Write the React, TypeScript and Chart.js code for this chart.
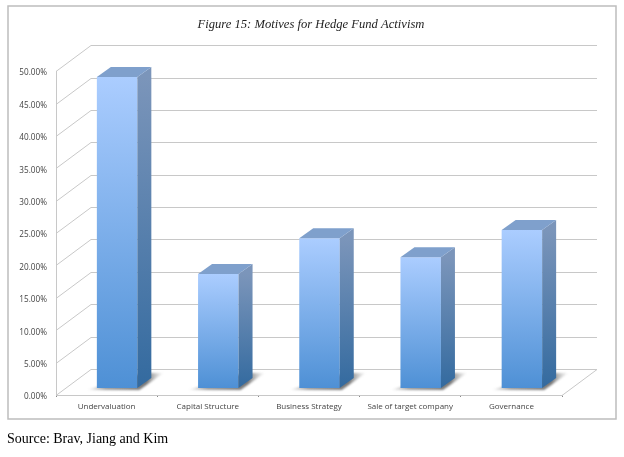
import React, { useEffect, useRef } from "react";
import { Chart, registerables } from "chart.js";

Chart.register(...registerables);

const categories = ["Undervaluation", "Capital Structure", "Business Strategy", "Sale of target company", "Governance"];
const motiveShares = [48.0, 17.6, 23.1, 20.2, 24.4];
const titleText = "Figure 15: Motives for Hedge Fund Activism";
const sourceText = "Source: Brav, Jiang and Kim";

const WALL_DX = 35;
const WALL_DY = 26;
const BAR_SHIFT_X = 10.5;
const BAR_SHIFT_Y = 7;
const DEPTH_X = 14;
const DEPTH_Y = 10;
const GRID = "#c8c8c8";

const poly = (c: CanvasRenderingContext2D, pts: number[][], fill: any) => {
  c.beginPath();
  pts.forEach(([x, y], i) => (i ? c.lineTo(x, y) : c.moveTo(x, y)));
  c.closePath();
  c.fillStyle = fill;
  c.fill();
};

const scene = {
  id: "scene",
  afterLayout(chart: any) {
    if (chart.titleBlock) {
      chart.titleBlock.left = 0;
      chart.titleBlock.right = 622;
    }
  },
  beforeDraw(chart: any) {
    const c = chart.ctx as CanvasRenderingContext2D;
    c.save();
    c.strokeStyle = "#bdbdbd";
    c.lineWidth = 1.5;
    c.strokeRect(8, 6, 608, 413);
    c.restore();
  },
  beforeDatasetsDraw(chart: any) {
    const c = chart.ctx as CanvasRenderingContext2D;
    const { x: xs, y: ys } = chart.scales;
    const L = xs.left, R = xs.right;
    c.save();
    c.strokeStyle = GRID;
    c.lineWidth = 1;
    ys.ticks.forEach((t: any) => {
      const y = Math.round(ys.getPixelForValue(t.value)) + 0.5;
      c.beginPath();
      c.moveTo(L, y);
      c.lineTo(L + WALL_DX, y - WALL_DY);
      c.lineTo(R + WALL_DX, y - WALL_DY);
      c.stroke();
    });
    const y0 = Math.round(ys.getPixelForValue(0)) + 0.5;
    c.beginPath();
    c.moveTo(R, y0);
    c.lineTo(R + WALL_DX, y0 - WALL_DY);
    c.stroke();
    c.restore();

    // floor shadows
    const meta = chart.getDatasetMeta(0);
    meta.data.forEach((el: any) => {
      const left = el.x - el.width / 2 + BAR_SHIFT_X, right = el.x + el.width / 2 + BAR_SHIFT_X;
      const b = el.base - BAR_SHIFT_Y;
      const g = c.createLinearGradient(left - 10, 0, right + 26, 0);
      g.addColorStop(0, "rgba(120,120,120,0)");
      g.addColorStop(0.25, "rgba(120,120,120,0.7)");
      g.addColorStop(0.78, "rgba(110,110,110,0.95)");
      g.addColorStop(1, "rgba(170,170,170,0.05)");
      c.save();
      c.filter = "blur(0.8px)";
      poly(c, [[left - 10, b + 2], [right + 2, b + 2], [right + 26, b - 15], [right + 6, b - 15]], g);
      c.restore();
    });
    c.save();
    c.translate(BAR_SHIFT_X, -BAR_SHIFT_Y);
  },
  afterDatasetsDraw(chart: any) {
    const c = chart.ctx as CanvasRenderingContext2D;
    c.restore();
    const meta = chart.getDatasetMeta(0);
    meta.data.forEach((el: any) => {
      const left = el.x - el.width / 2 + BAR_SHIFT_X, right = el.x + el.width / 2 + BAR_SHIFT_X;
      const top = el.y - BAR_SHIFT_Y, b = el.base - BAR_SHIFT_Y;
      const side = c.createLinearGradient(0, top, 0, b);
      side.addColorStop(0, "#7b95ba");
      side.addColorStop(1, "#336a9f");
      poly(c, [[right, top], [right + DEPTH_X, top - DEPTH_Y], [right + DEPTH_X, b - DEPTH_Y], [right, b]], side);
      poly(c, [[left, top], [left + DEPTH_X, top - DEPTH_Y], [right + DEPTH_X, top - DEPTH_Y], [right, top]], "#7fa0cc");
    });
  },
};

export default function App() {
  const ref = useRef<HTMLCanvasElement>(null);
  useEffect(() => {
    const chart = new Chart(ref.current!, {
      type: "bar",
      plugins: [scene],
      data: {
        labels: categories,
        datasets: [
          {
            data: motiveShares,
            clip: false,
            barPercentage: 0.4,
            categoryPercentage: 1,
            backgroundColor: (ctx: any) => {
              const ys = ctx.chart.scales.y;
              const v = motiveShares[ctx.dataIndex];
              if (!ys || v === undefined) return "#7fb0ea";
              const t = ys.getPixelForValue(v), b = ys.getPixelForValue(0);
              if (!Number.isFinite(t) || !Number.isFinite(b)) return "#7fb0ea";
              const g = ctx.chart.ctx.createLinearGradient(0, t, 0, b);
              g.addColorStop(0, "#abcdff");
              g.addColorStop(1, "#4e90d5");
              return g;
            },
          } as any,
        ],
      },
      options: {
        responsive: false,
        animation: false,
        layout: { padding: { left: 0, right: 62, top: 0, bottom: 32 } },
        plugins: {
          legend: { display: false },
          tooltip: { enabled: false },
          title: {
            display: true,
            text: titleText,
            color: "#222",
            font: { family: "'Liberation Serif'", size: 12.6, style: "italic", weight: "normal" },
            padding: { top: 17, bottom: 39 },
          },
        },
        scales: {
          x: {
            afterFit: (s: any) => { s.height = 30; },
            grid: { display: true, offset: true, drawOnChartArea: false, tickLength: 2, color: "#888" },
            border: { color: GRID },
            ticks: {
              maxRotation: 0,
              autoSkip: false,
              padding: 5,
              color: "#444",
              font: { family: "'Open Sans'", size: 8 },
            },
          },
          y: {
            min: 0,
            max: 50,
            afterFit: (s: any) => { s.width = 56; },
            grid: { display: false },
            border: { color: GRID },
            ticks: {
              stepSize: 5,
              padding: 1,
              labelOffset: 2,
              color: "#444",
              font: { family: "'Open Sans'", size: 8.2 },
              callback: (v: any) => Number(v).toFixed(2) + "%",
            },
          },
        },
      },
    });
    return () => chart.destroy();
  }, []);
  return (
    <div style={{ position: "fixed", left: 0, top: 0, width: 624, height: 457, background: "#fff" }}>
      <canvas ref={ref} width={624} height={457} style={{ display: "block", filter: "blur(0.35px)" }} />
      <div
        style={{
          position: "absolute",
          left: 7,
          top: 430,
          fontFamily: "'Liberation Serif'",
          fontSize: 14,
          lineHeight: "17px",
          color: "#000",
        }}
      >
        {sourceText}
      </div>
    </div>
  );
}
